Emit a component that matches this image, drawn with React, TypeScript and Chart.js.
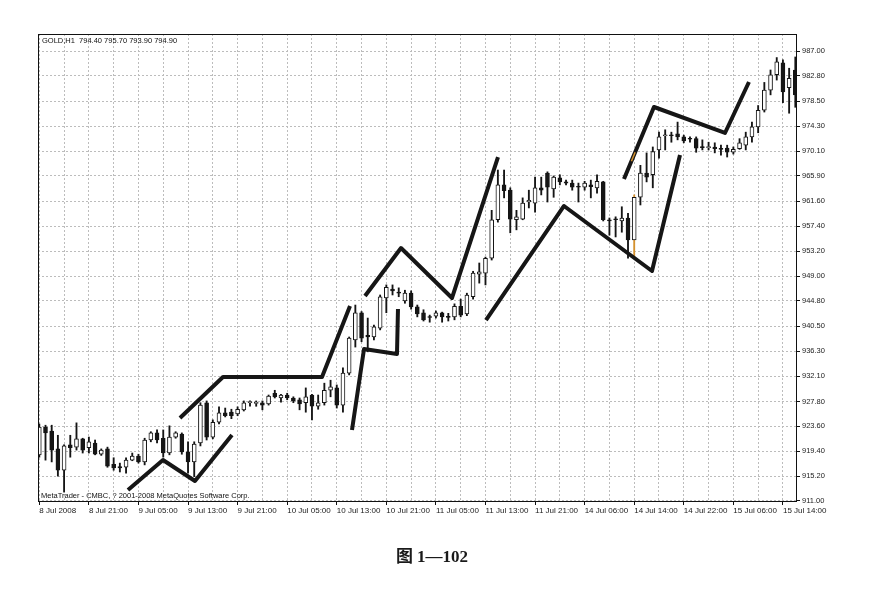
import React, { useEffect, useRef } from 'react';
import { Chart, registerables } from 'chart.js';

Chart.register(...registerables);

// ---- data (GOLD, H1, 8–15 Jul 2008) ----
const X_TICK_LABELS = [
  '8 Jul 2008', '8 Jul 21:00', '9 Jul 05:00', '9 Jul 13:00', '9 Jul 21:00',
  '10 Jul 05:00', '10 Jul 13:00', '10 Jul 21:00', '11 Jul 05:00', '11 Jul 13:00',
  '11 Jul 21:00', '14 Jul 06:00', '14 Jul 14:00', '14 Jul 22:00', '15 Jul 06:00', '15 Jul 14:00',
];

const Y_TICK_VALUES = [
  911.0, 915.2, 919.4, 923.6, 927.8, 932.1, 936.3, 940.5, 944.8, 949.0,
  953.2, 957.4, 961.6, 965.9, 970.1, 974.3, 978.5, 982.8, 987.0,
];

const OPEN = [
  918.8, 923.5, 922.8, 919.8, 916.2, 920.5, 920.1, 921.5, 920.0, 920.8,
  918.9, 919.8, 917.2, 916.8, 916.7, 917.9, 918.6, 917.6, 921.3, 922.5,
  921.6, 919.1, 921.8, 922.3, 919.3, 917.6, 920.8, 927.6, 921.8, 924.3,
  925.9, 926.0, 925.7, 926.4, 927.6, 927.5, 927.6, 927.4, 929.2, 928.4,
  928.9, 928.4, 928.1, 927.6, 928.9, 927.0, 927.6, 929.7, 930.1, 927.2,
  932.6, 938.2, 942.8, 939.0, 938.7, 940.2, 945.3, 946.8, 946.3, 944.8,
  946.1, 943.8, 942.8, 942.1, 942.2, 942.8, 942.2, 942.1, 943.9, 942.6,
  945.5, 949.3, 949.5, 952.0, 958.5, 964.4, 963.5, 958.5, 958.6, 961.5,
  961.3, 963.9, 966.4, 963.7, 965.6, 964.9, 964.7, 964.1, 964.0, 964.4,
  963.9, 964.9, 958.5, 958.6, 958.3, 958.8, 955.1, 962.3, 966.4, 966.1,
  970.3, 972.7, 972.8, 973.0, 972.5, 972.2, 972.2, 970.8, 970.7, 970.8,
  970.5, 970.6, 969.9, 970.5, 971.1, 972.5, 974.2, 977.0, 980.4, 983.0,
  985.0, 980.8, 983.8,
];

const HIGH = [
  924.0, 923.8, 923.8, 922.1, 920.5, 922.1, 924.2, 921.6, 921.8, 921.3,
  919.8, 920.1, 918.3, 917.4, 918.3, 919.1, 918.9, 921.6, 922.7, 923.0,
  923.0, 923.7, 922.7, 922.5, 921.0, 921.0, 927.6, 927.9, 924.7, 926.9,
  926.7, 926.5, 926.9, 927.9, 927.9, 927.9, 927.9, 928.9, 929.7, 929.0,
  929.2, 928.6, 928.4, 930.1, 929.0, 928.9, 930.9, 931.4, 930.6, 933.5,
  938.7, 944.1, 943.0, 941.9, 940.7, 945.8, 947.5, 947.5, 947.0, 946.6,
  946.5, 944.1, 943.3, 942.4, 943.1, 942.9, 942.7, 944.3, 945.1, 946.1,
  949.8, 951.2, 952.2, 960.1, 966.9, 966.9, 963.9, 960.1, 962.2, 963.5,
  965.7, 965.7, 966.6, 965.9, 966.1, 965.2, 965.2, 964.7, 965.0, 965.2,
  966.1, 965.0, 958.8, 959.0, 960.7, 959.6, 962.7, 967.7, 969.8, 970.8,
  973.3, 973.7, 973.3, 975.0, 972.8, 972.5, 972.5, 972.0, 971.6, 971.5,
  971.1, 971.1, 970.8, 972.2, 973.3, 975.0, 977.8, 981.7, 983.8, 985.9,
  985.5, 984.1, 986.0,
];

const LOW = [
  918.4, 917.9, 917.6, 915.2, 912.5, 918.4, 919.6, 919.1, 919.1, 918.8,
  918.7, 916.7, 916.2, 915.9, 915.7, 917.8, 917.4, 917.1, 921.0, 920.8,
  918.4, 918.8, 921.6, 918.9, 915.7, 915.1, 920.3, 921.3, 921.5, 924.0,
  925.2, 924.9, 925.4, 926.2, 927.0, 927.0, 926.4, 927.2, 928.4, 927.7,
  928.1, 927.6, 926.4, 926.0, 924.7, 926.5, 927.2, 928.6, 926.7, 926.0,
  932.3, 937.0, 937.9, 936.2, 938.2, 939.9, 942.8, 945.8, 945.5, 944.4,
  943.4, 942.1, 941.4, 941.2, 941.9, 941.2, 941.4, 941.6, 942.1, 942.3,
  945.1, 947.8, 947.5, 951.7, 958.1, 962.2, 956.3, 956.8, 958.5, 960.5,
  959.8, 962.7, 961.5, 962.3, 964.4, 964.4, 963.5, 961.5, 963.5, 962.2,
  963.0, 958.3, 955.9, 955.6, 956.4, 952.0, 952.0, 961.0, 964.9, 963.9,
  968.9, 970.3, 971.6, 972.0, 971.5, 971.6, 969.9, 970.3, 970.3, 969.8,
  969.4, 969.1, 969.6, 970.4, 970.3, 971.6, 973.2, 976.7, 979.6, 982.1,
  978.3, 976.5, 977.5,
];

const CLOSE = [
  923.5, 922.5, 919.6, 916.2, 920.3, 920.0, 921.5, 919.6, 921.0, 918.9,
  919.6, 916.9, 916.6, 916.6, 917.9, 918.6, 917.6, 921.3, 922.5, 921.3,
  919.1, 921.8, 922.5, 919.3, 917.6, 920.6, 927.2, 921.8, 924.3, 925.9,
  925.4, 925.4, 926.5, 927.6, 927.8, 927.6, 927.2, 928.7, 928.6, 928.9,
  928.4, 927.9, 927.4, 928.6, 927.0, 927.6, 929.7, 930.3, 927.2, 932.6,
  938.5, 942.8, 938.5, 938.7, 940.4, 945.5, 947.1, 946.5, 946.1, 946.1,
  943.8, 942.6, 941.6, 942.0, 942.8, 942.1, 942.0, 943.9, 942.4, 945.8,
  949.5, 949.7, 952.0, 958.5, 964.4, 963.4, 958.6, 959.0, 961.3, 961.8,
  963.9, 963.5, 964.0, 965.7, 964.9, 964.7, 964.0, 964.0, 964.7, 964.1,
  965.0, 958.5, 958.3, 958.5, 958.8, 955.1, 962.3, 966.4, 965.7, 970.0,
  972.5, 972.8, 972.7, 972.5, 971.8, 972.1, 970.6, 970.7, 970.8, 970.5,
  970.4, 969.9, 970.4, 971.5, 972.5, 974.2, 977.0, 980.4, 983.0, 985.2,
  980.1, 982.4, 979.6,
];

// hand-drawn trend lines: [bar index, price]
const TREND_A = [[14.31, 912.86], [19.96, 917.92], [25.12, 914.38], [31.09, 922.15]];
const TREND_B = [[22.7, 925.02], [29.64, 931.94], [45.62, 931.94], [50.14, 943.94]];
const TREND_C = [[50.46, 922.99], [52.4, 936.67], [57.72, 935.83], [57.88, 943.43]];
const TREND_D = [[52.56, 945.62], [58.37, 953.73], [66.6, 945.29], [74.02, 969.1]];
const TREND_E = [[72.08, 941.57], [84.67, 960.83], [98.87, 949.85], [103.39, 969.44]];
const TREND_F = [[94.35, 965.39], [99.19, 977.55], [110.65, 973.16], [114.52, 981.77]];
const ORANGE_MARK = [[95.55, 968.4], [96.15, 969.9]];
const ORANGE_WICK_INDEX = 96;

const HEADER_TEXT = 'GOLD,H1  794.40 795.70 793.90 794.90';
const FOOTER_TEXT = 'MetaTrader - CMBC, ? 2001-2008 MetaQuotes Software Corp.';
const CAPTION = '图 1—102';

const FONT = '"Liberation Sans", Arial, sans-serif';

const toPts = (arr: number[][]) => arr.map(([x, y]) => ({ x, y }));

const decorPlugin = {
  id: 'decor',
  afterDraw(chart: any) {
    const { ctx, chartArea: a } = chart;
    ctx.save();
    ctx.strokeStyle = '#111';
    ctx.lineWidth = 1;
    ctx.strokeRect(Math.round(a.left) + 0.5, Math.round(a.top) + 0.5, Math.round(a.width) - 1, Math.round(a.height) - 1);
    ctx.fillStyle = '#111';
    ctx.font = `7.5px ${FONT}`;
    ctx.textBaseline = 'middle';
    ctx.textAlign = 'left';
    ctx.fillText(HEADER_TEXT, a.left + 4, a.top + 7);
    ctx.fillText(FOOTER_TEXT, a.left + 3, a.bottom - 6);
    ctx.restore();
  },
};

export default function App() {
  const ref = useRef<HTMLCanvasElement | null>(null);

  useEffect(() => {
    if (!ref.current) return;
    const lineDs = (pts: number[][], color = '#161616', width = 4) => ({
      type: 'line' as const,
      data: toPts(pts),
      borderColor: color,
      borderWidth: width,
      pointRadius: 0,
      fill: false,
      tension: 0,
      borderJoinStyle: 'round' as const,
      borderCapStyle: 'butt' as const,
      order: -1,
    });

    const chart = new Chart(ref.current, {
      type: 'bar',
      data: {
        datasets: [
          {
            type: 'bar',
            data: OPEN.map((o, i) => ({ x: i, y: [o, CLOSE[i]] })) as any,
            backgroundColor: OPEN.map((o, i) => (CLOSE[i] >= o ? '#ffffff' : '#151515')),
            borderColor: '#151515',
            borderWidth: 1,
            borderSkipped: false,
            barThickness: 4,
            minBarLength: 1,
            grouped: false,
            order: 1,
          } as any,
          {
            type: 'bar',
            data: LOW.map((l, i) => ({ x: i, y: [l, HIGH[i]] })) as any,
            backgroundColor: LOW.map((_, i) => (i === ORANGE_WICK_INDEX ? '#d4912e' : '#151515')),
            borderWidth: 0,
            barThickness: 1.2,
            grouped: false,
            order: 2,
          } as any,
          lineDs(TREND_A),
          lineDs(TREND_B),
          lineDs(TREND_C),
          lineDs(TREND_D),
          lineDs(TREND_E),
          lineDs(TREND_F),
          { ...lineDs(ORANGE_MARK, '#d4912e', 1.5), order: -2 },
        ] as any,
      },
      options: {
        responsive: false,
        animation: false,
        events: [],
        layout: { padding: { left: 38, top: 34, right: 0, bottom: 0 } },
        plugins: { legend: { display: false }, tooltip: { enabled: false } },
        scales: {
          x: {
            type: 'linear',
            min: -0.21,
            max: 122.27,
            offset: false,
            bounds: 'data',
            afterBuildTicks: (scale: any) => {
              const t = [];
              for (let v = 0; v <= 120; v += 4) t.push({ value: v });
              scale.ticks = t;
            },
            afterFit: (scale: any) => {
              scale.height = 96;
            },
            ticks: {
              autoSkip: false,
              maxRotation: 0,
              minRotation: 0,
              align: 'start',
              padding: 1,
              color: '#1a1a1a',
              font: { family: FONT, size: 8 },
              callback: (value: any) => {
                const v = Math.round(Number(value));
                return v % 8 === 0 ? X_TICK_LABELS[v / 8] ?? '' : '';
              },
            },
            grid: {
              offset: false,
              color: '#bcbcbc',
              lineWidth: 1,
              tickLength: 3,
              tickColor: (ctx: any) =>
                ctx.tick && Math.round(ctx.tick.value) % 8 === 0 ? '#111' : 'rgba(0,0,0,0)',
            },
            border: { display: false, dash: [2, 2] },
          } as any,
          y: {
            type: 'linear',
            position: 'right',
            min: 910.83,
            max: 989.88,
            bounds: 'data',
            afterBuildTicks: (scale: any) => {
              scale.ticks = Y_TICK_VALUES.map((value) => ({ value }));
            },
            afterFit: (scale: any) => {
              scale.width = 83;
            },
            ticks: {
              padding: 2,
              color: '#1a1a1a',
              font: { family: FONT, size: 7.5 },
              callback: (value: any) => Number(value).toFixed(2),
            },
            grid: {
              color: '#bcbcbc',
              lineWidth: 1,
              tickLength: 3,
              tickColor: '#111',
            },
            border: { display: false, dash: [2, 2] },
          } as any,
        },
      },
      plugins: [decorPlugin],
    });
    return () => chart.destroy();
  }, []);

  return (
    <div style={{ position: 'absolute', left: 0, top: 0, width: 880, height: 598, background: '#fff' }}>
      <canvas ref={ref} width={880} height={598} style={{ display: 'block', width: 880, height: 598 }} />
      <div
        style={{
          position: 'absolute',
          left: 0,
          width: 864,
          top: 546,
          textAlign: 'center',
          fontFamily: '"Liberation Serif", "Noto Sans CJK SC", serif',
          fontWeight: 'bold',
          fontSize: 17,
          lineHeight: '22px',
          color: '#1a1a1a',
        }}
      >
        {CAPTION}
      </div>
    </div>
  );
}
